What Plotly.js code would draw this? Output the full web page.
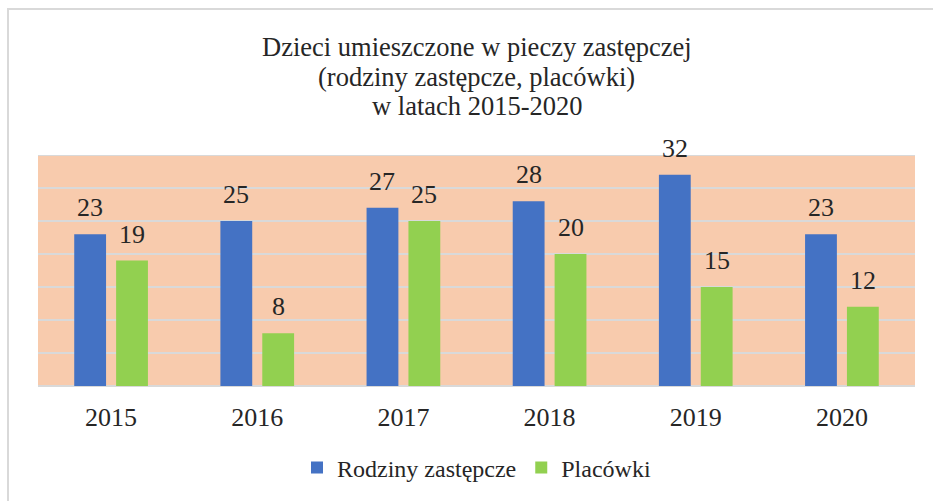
<!DOCTYPE html>
<html>
<head>
<meta charset="utf-8">
<script src="https://cdn.plot.ly/plotly-3.0.1.min.js"></script>
<style>
html,body{margin:0;padding:0;background:#fff;}
#chart{width:933px;height:501px;position:absolute;left:0;top:0;}
#frame{position:absolute;left:7px;top:8px;width:1000px;height:600px;border-left:2px solid #d9d9d9;border-top:2px solid #d9d9d9;pointer-events:none;}
</style>
</head>
<body>
<div id="chart"></div>
<div id="frame"></div>
<script>
const years = ['2015','2016','2017','2018','2019','2020'];
const rodziny = [23, 25, 27, 28, 32, 23];
const placowki = [19, 8, 25, 20, 15, 12];
const seriesNames = ['Rodziny zastępcze', 'Placówki'];
const titleLines = ['Dzieci umieszczone w pieczy zastępczej', '(rodziny zastępcze, placówki)', 'w latach 2015-2020'];

const W = 933, H = 501;
const margin = {l: 38, r: 18, t: 155, b: 115};
const bargap = 0.427;
const plotW = W - margin.l - margin.r;
const plotH = H - margin.t - margin.b;
const catW = plotW / years.length;
const slot = catW * (1 - bargap) / 2;
const shift = slot / 2;
const pyPaper = (py) => (H - margin.b - py) / plotH;

const font = "'Liberation Serif', 'Times New Roman', serif";
const txtColor = '#262626';

const traces = [
  {type: 'bar', name: seriesNames[0], x: years, y: rodziny, marker: {color: '#4472C4'}, hoverinfo: 'none'},
  {type: 'bar', name: seriesNames[1], x: years, y: placowki, marker: {color: '#92D050'}, hoverinfo: 'none'}
];

const annotations = [];
[rodziny, placowki].forEach((vals, si) => {
  vals.forEach((v, i) => {
    annotations.push({
      x: i, y: v, xref: 'x', yref: 'y', text: String(v), showarrow: false,
      xanchor: 'center', yanchor: 'bottom', xshift: si === 0 ? -shift : shift, yshift: 10,
      font: {family: font, size: 26, color: txtColor}
    });
  });
});
const titleY = [47, 77, 106];
titleLines.forEach((t, i) => {
  annotations.push({
    x: 0.5, y: pyPaper(titleY[i]), xref: 'paper', yref: 'paper', text: t, showarrow: false,
    xanchor: 'center', yanchor: 'middle',
    font: {family: font, size: 26.5, color: txtColor}
  });
});

const layout = {
  width: W, height: H,
  margin: margin,
  paper_bgcolor: '#ffffff',
  plot_bgcolor: '#F8CBAD',
  barmode: 'group',
  bargap: bargap,
  bargroupgap: 0.24,
  xaxis: {
    type: 'category', range: [-0.5, years.length - 0.5], autorange: false, automargin: false,
    showgrid: false, zeroline: false, showline: false, ticks: '',
    tickfont: {family: font, size: 26, color: txtColor}, ticklabelstandoff: 13
  },
  yaxis: {
    range: [0, 35], autorange: false, automargin: false, dtick: 5, showgrid: true, gridcolor: '#D9D9D9', gridwidth: 2,
    zeroline: true, zerolinecolor: '#D9D9D9', zerolinewidth: 2,
    showticklabels: false, ticks: '', showline: false
  },
  shapes: [{type: 'line', xref: 'paper', yref: 'y', x0: 0, x1: 1, y0: 35, y1: 35, line: {color: '#D9D9D9', width: 2}}],
  showlegend: true,
  legend: {orientation: 'h', x: 0.5, xanchor: 'center', xref: 'paper', yref: 'container', y: 1 - 468 / H, yanchor: 'middle',
    font: {family: font, size: 24, color: txtColor}, itemclick: false},
  annotations: annotations
};

Plotly.newPlot('chart', traces, layout, {displayModeBar: false, staticPlot: true});
</script>
</body>
</html>
